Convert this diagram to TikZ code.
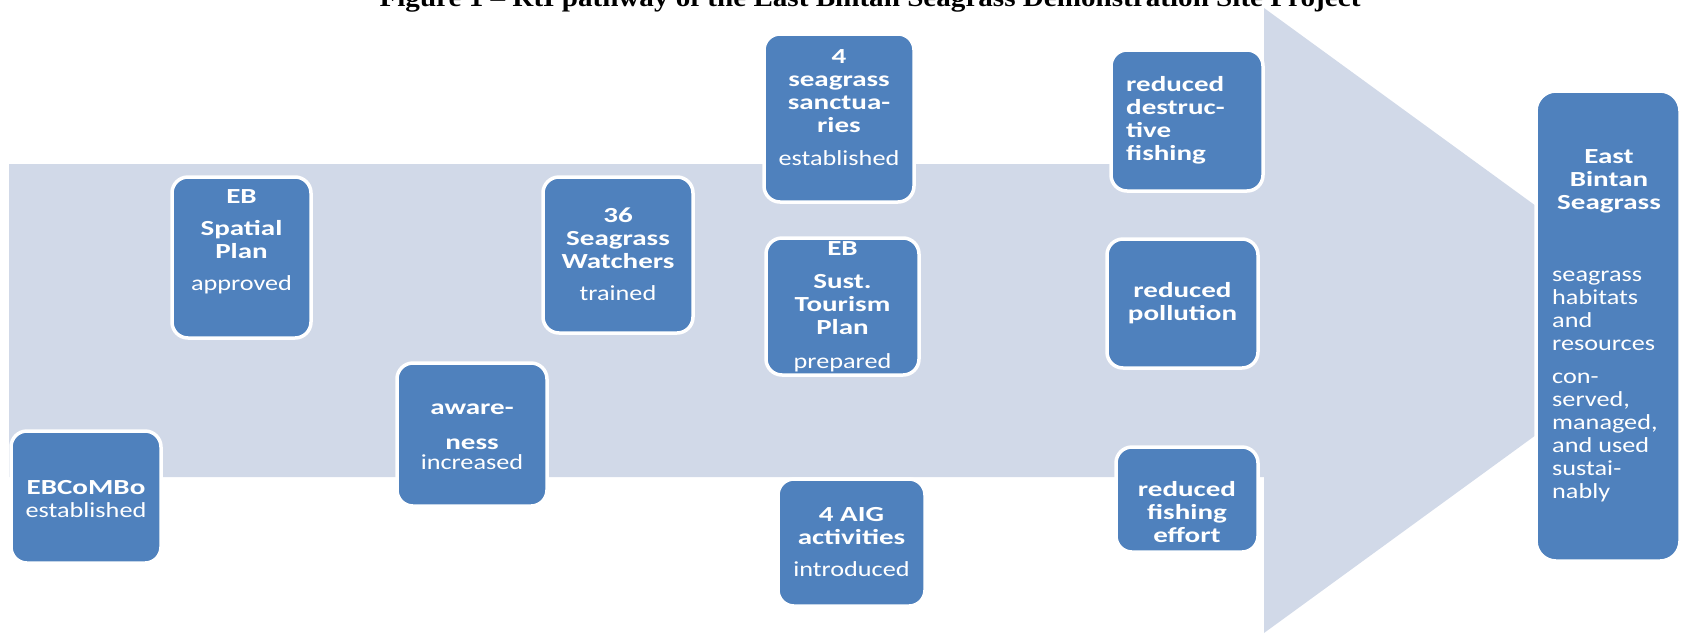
\documentclass[tikz,border=0pt]{standalone}
\usepackage{fontspec}
\usetikzlibrary{fit}
\setmainfont{Carlito}[FakeStretch=1.22, BoldFeatures={FakeStretch=1.35}]
\newfontfamily\titlefont{Liberation Serif}[FakeStretch=1.12]
\definecolor{boxblue}{RGB}{79,129,189}
\definecolor{bandgray}{RGB}{209,217,232}

\begin{document}
\begin{tikzpicture}[x=1pt,y=-1pt,
  box/.style={draw=white, line width=3.5pt, fill=boxblue, rounded corners=16pt, inner sep=0pt},
  lbl/.style={text=white, align=center, inner sep=0pt, font=\fontsize{21.5}{23}\selectfont},
  lbll/.style={lbl, align=left},
]
\useasboundingbox (0,0) rectangle (1682,633);
\clip (0,0) rectangle (1682,633);

% heading, partly cut off at the top edge
\node[anchor=base, font=\titlefont\bfseries\fontsize{26}{26}\selectfont] (title) at (870,6)
  {Figure 1 – RtI pathway of the East Bintan Seagrass Demonstration Site Project};

% the broad pathway arrow
\fill[bandgray] (9,164) -- (1264,164) -- (1264,8) -- (1600,252.6) -- (1600,388.4)
  -- (1264,633) -- (1264,477) -- (9,477) -- cycle;

% outputs and outcomes
\node[box, fit={(11,431) (161,563)}] (b1) {};
\node[lbl] (t1) at (86,499) {\textbf{EBCoMBo}\\established};

\node[box, fit={(172,177) (311,338)}] (b2) {};
\node[lbl] (t2) at (241.5,241.5) {\textbf{EB}\\[9pt]\textbf{Spatial}\\\textbf{Plan}\\[9pt]approved};

\node[box, fit={(397,363) (547,506)}] (b3) {};
\node[lbl] (t3) at (472,437) {\textbf{aware-}\\[12pt]\textbf{ness}\\[-3pt]increased};

\node[box, fit={(543,177) (693,333)}] (b4) {};
\node[lbl] (t4) at (618,254) {\textbf{36}\\\textbf{Seagrass}\\\textbf{Watchers}\\[9pt]trained};

\node[box, fit={(764,34) (914,202)}] (b5) {};
\node[lbl] (t5) at (839,108) {\textbf{4}\\\textbf{seagrass}\\\textbf{sanctua-}\\\textbf{ries}\\[10pt]established};

\node[box, fit={(766,238) (919,375)}] (b6) {};
\node[lbl] (t6) at (842.5,306.5) {\textbf{EB}\\[10pt]\textbf{Sust.}\\\textbf{Tourism}\\\textbf{Plan}\\[11pt]prepared};

\node[box, fit={(778,479) (925,606)}] (b7) {};
\node[lbl] (t7) at (851.5,542.5) {\textbf{4 AIG}\\\textbf{activities}\\[9pt]introduced};

% intermediate states
\node[box, fit={(1111,50) (1263,191)}] (b8) {};
\node[lbll, anchor=west] (t8) at (1126,120) {\textbf{reduced}\\\textbf{destruc-}\\\textbf{tive}\\\textbf{fishing}};

\node[box, fit={(1107,239) (1258,368)}] (b9) {};
\node[lbl] (t9) at (1182.5,303.5) {\textbf{reduced}\\\textbf{pollution}};

\node[box, fit={(1116,447) (1258,552)}] (b10) {};
\node[lbl] (t10) at (1187,512.5) {\textbf{reduced}\\\textbf{fishing}\\\textbf{effort}};

% impact
\node[box, rounded corners=20pt, fit={(1536,91) (1680,561)}] (b11) {};
\node[lbl] (t11) at (1609,181) {\textbf{East}\\\textbf{Bintan}\\\textbf{Seagrass}};
\node[lbll, anchor=west] (t12) at (1552,386) {seagrass\\habitats\\and\\resources\\[10pt]con-\\served,\\managed,\\and used\\sustai-\\nably};
\end{tikzpicture}
\end{document}
